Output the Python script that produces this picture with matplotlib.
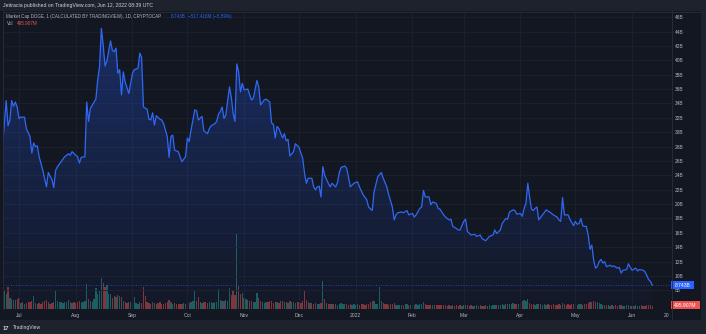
import datetime as dt
import numpy as np
import matplotlib
matplotlib.use("Agg")
import matplotlib.pyplot as plt
import matplotlib.dates as mdates
import matplotlib.transforms as mtransforms
from matplotlib.colors import LinearSegmentedColormap
from matplotlib.patches import Rectangle
from matplotlib.lines import Line2D

plt.rcParams['font.family'] = ['Liberation Sans', 'DejaVu Sans']

# ---------------------------------------------------------------- data
START = dt.date(2021, 7, 1)          # day 0

# DOGE market cap (billions USD), day offsets from START
cap_day = [
    -9, -7, -6, -5, -4, -3, -2, -1, 0, 1,
    3, 4, 6, 7, 8, 9, 10, 11, 13, 15,
    16, 18, 19, 20, 21, 23, 25, 27, 28, 29,
    31, 32, 33, 34, 36, 37, 38, 39, 41, 42,
    43, 44, 45, 46, 47, 48, 50, 51, 52, 53,
    54, 55, 56, 57, 58, 60, 62, 63, 65, 66,
    67, 68, 70, 71, 72, 73, 74, 75, 77, 78,
    79, 81, 82, 83, 84, 85, 87, 88, 89, 91,
    92, 93, 94, 96, 97, 98, 100, 101, 103, 104,
    105, 107, 108, 109, 110, 111, 112, 113, 115, 116,
    117, 118, 119, 120, 121, 122, 123, 125, 127, 128,
    130, 131, 132, 134, 135, 137, 138, 139, 140, 141,
    142, 144, 145, 146, 147, 148, 150, 151, 153, 154,
    155, 156, 157, 158, 160, 161, 162, 163, 164, 165,
    166, 167, 169, 170, 171, 173, 174, 175, 176, 178,
    179, 180, 181, 183, 185, 186, 188, 190, 191, 193,
    194, 196, 198, 199, 201, 202, 204, 205, 206, 207,
    209, 210, 212, 213, 215, 216, 217, 219, 220, 221,
    222, 224, 225, 226, 228, 229, 230, 232, 233, 235,
    236, 237, 239, 240, 241, 243, 244, 245, 247, 249,
    250, 252, 253, 255, 256, 257, 259, 260, 261, 263,
    264, 266, 267, 268, 270, 271, 272, 274, 275, 276,
    277, 278, 279, 280, 281, 282, 283, 284, 286, 287,
    288, 290, 291, 292, 294, 295, 296, 297, 298, 300,
    301, 303, 304, 305, 306, 307, 308, 309, 310, 311,
    312, 313, 314, 315, 316, 317, 318, 319, 320, 321,
    323, 324, 325, 327, 328, 329, 330, 332, 333, 334,
    335, 337, 338, 339, 341, 342, 343, 344, 345, 346,
]
cap_bn = [
    28.0, 34.4, 30.9, 31.7, 34.4, 33.6, 34.2, 33.5, 31.9, 32.1,
    32.1, 30.5, 29.4, 27.1, 28.5, 28.0, 28.1, 26.6, 24.7, 22.4,
    24.4, 23.4, 22.3, 24.7, 25.2, 25.9, 26.6, 27.0, 26.8, 27.3,
    26.8, 26.6, 25.7, 26.5, 26.6, 34.2, 31.5, 33.3, 34.2, 34.6,
    37.3, 39.1, 44.45, 42.1, 39.2, 39.9, 42.7, 41.4, 41.2, 41.7,
    38.2, 38.7, 35.2, 38.4, 37.0, 35.4, 38.2, 38.7, 38.9, 41.0,
    40.4, 33.5, 33.2, 31.8, 31.7, 32.7, 31.0, 32.3, 31.8, 31.7,
    31.2, 29.4, 26.5, 29.4, 29.6, 27.5, 27.3, 26.6, 25.9, 26.6,
    29.2, 28.7, 30.3, 33.1, 33.0, 31.7, 32.2, 30.2, 29.8, 30.5,
    30.9, 31.2, 31.5, 32.5, 32.9, 33.5, 31.9, 32.4, 36.3, 34.9,
    32.6, 31.5, 39.5, 38.4, 35.6, 36.8, 35.9, 36.0, 34.5, 34.7,
    37.2, 36.3, 33.8, 34.5, 34.6, 34.2, 31.3, 31.1, 29.2, 30.8,
    30.5, 29.2, 29.8, 28.8, 29.0, 26.7, 27.3, 28.4, 27.9, 27.1,
    26.4, 24.3, 22.9, 23.6, 23.6, 22.4, 22.0, 22.4, 22.5, 21.0,
    25.2, 24.0, 22.9, 22.4, 22.9, 22.4, 23.0, 24.4, 25.1, 25.3,
    25.0, 23.8, 22.4, 22.9, 23.1, 22.4, 21.3, 20.6, 19.6, 19.1,
    21.7, 23.8, 24.4, 23.6, 22.4, 21.3, 19.6, 17.8, 18.5, 18.8,
    18.9, 18.8, 19.1, 18.5, 18.7, 18.2, 18.5, 19.4, 19.6, 21.9,
    21.0, 21.0, 19.9, 20.3, 20.1, 19.4, 19.3, 18.5, 18.2, 17.8,
    17.9, 16.9, 16.6, 16.4, 16.4, 17.6, 17.9, 16.2, 15.7, 15.8,
    15.5, 15.7, 15.2, 14.9, 15.2, 15.5, 15.7, 16.4, 15.9, 16.4,
    17.3, 18.0, 17.9, 18.9, 19.2, 19.1, 18.6, 18.7, 18.3, 19.4,
    20.1, 22.9, 21.0, 19.3, 19.1, 19.4, 19.6, 17.8, 18.5, 18.8,
    19.2, 18.9, 18.7, 18.5, 18.2, 17.8, 17.6, 20.9, 18.5, 18.5,
    17.9, 17.0, 17.6, 17.2, 17.3, 18.0, 17.0, 16.9, 16.9, 15.7,
    13.7, 14.3, 12.2, 11.1, 11.3, 12.0, 12.3, 11.8, 12.0, 11.3,
    11.5, 11.3, 11.4, 11.1, 11.2, 10.4, 10.8, 10.9, 11.7, 11.2,
    10.8, 11.1, 10.7, 10.9, 10.8, 10.6, 10.1, 9.5, 9.26, 8.743,
]

# daily volume (billions USD), one value per day from day -9 to day 346
vol_first_day = -9
vol_bn = [
    3.6, 3.2, 2.5, 3.7, 1.8, 1.6, 1.5, 1.5, 1.6, 1.8,
    1.0, 1.1, 0.9, 1.0, 1.1, 1.2, 1.3, 2.2, 1.0, 0.9,
    1.0, 0.9, 1.1, 1.3, 1.5, 1.2, 0.9, 1.0, 1.1, 3.0,
    1.4, 1.2, 1.1, 1.0, 1.1, 1.2, 1.5, 1.1, 1.0, 1.2,
    1.0, 1.1, 1.3, 1.2, 1.1, 1.3, 4.1, 1.6, 1.3, 1.2,
    1.6, 3.5, 2.4, 3.0, 5.1, 4.3, 3.6, 4.0, 2.5, 2.5,
    1.8, 2.2, 2.0, 2.3, 2.2, 2.0, 1.3, 1.1, 1.0, 1.2,
    1.1, 1.0, 2.0, 1.0, 0.9, 1.1, 1.0, 3.6, 2.2, 1.2,
    1.0, 0.9, 1.1, 1.0, 0.9, 1.0, 1.1, 0.8, 0.9, 1.0,
    1.2, 1.5, 1.1, 0.9, 1.0, 0.9, 0.8, 0.8, 0.9, 1.0,
    0.9, 1.2, 1.0, 1.1, 1.4, 3.0, 1.3, 2.0, 1.1, 1.0,
    1.2, 1.1, 1.0, 1.2, 1.1, 1.0, 1.2, 1.1, 3.3, 1.5,
    1.4, 1.3, 1.5, 1.4, 3.4, 2.3, 3.1, 2.3, 12.5, 3.8,
    2.5, 2.7, 1.8, 1.6, 1.5, 1.4, 1.3, 1.2, 1.2, 2.7,
    1.9, 1.3, 1.1, 1.0, 1.2, 1.1, 1.4, 1.3, 1.0, 1.2,
    1.1, 1.0, 1.3, 1.4, 1.1, 1.2, 1.0, 1.4, 1.2, 1.1,
    1.0, 1.1, 1.2, 1.0, 1.3, 2.9, 1.5, 1.1, 1.0, 1.0,
    0.9, 1.0, 0.9, 0.8, 1.0, 4.6, 1.6, 1.0, 0.9, 0.8,
    0.9, 0.8, 0.8, 0.7, 0.9, 1.0, 0.8, 0.9, 0.8, 0.7,
    0.8, 0.7, 0.8, 0.7, 0.8, 0.7, 0.9, 0.8, 0.7, 0.8,
    0.9, 1.1, 1.3, 1.4, 0.9, 0.8, 3.7, 1.4, 1.0, 0.8,
    0.8, 0.7, 0.8, 0.9, 1.0, 0.7, 0.6, 0.7, 0.6, 0.7,
    0.8, 0.9, 0.7, 0.6, 0.7, 0.6, 0.8, 0.7, 0.9, 0.8,
    1.1, 0.8, 0.7, 0.7, 0.6, 0.7, 0.6, 0.6, 0.7, 0.6,
    0.6, 0.7, 0.6, 0.5, 0.6, 0.5, 0.6, 0.5, 0.6, 0.5,
    0.6, 0.5, 0.6, 0.7, 0.6, 0.5, 0.6, 0.5, 0.5, 0.6,
    0.5, 0.6, 0.5, 0.5, 0.6, 0.5, 0.6, 0.5, 0.6, 0.7,
    0.6, 0.7, 0.6, 0.8, 0.7, 0.9, 0.8, 0.9, 0.8, 1.0,
    0.9, 0.8, 0.9, 1.0, 1.3, 1.5, 1.4, 1.6, 1.0, 0.9,
    0.8, 0.7, 0.8, 0.9, 0.8, 0.7, 0.8, 0.7, 0.8, 0.7,
    0.7, 0.8, 0.7, 0.7, 0.8, 0.7, 1.0, 0.8, 0.7, 0.8,
    0.7, 0.8, 0.9, 0.8, 0.7, 0.8, 0.9, 0.7, 0.8, 0.9,
    1.0, 1.1, 1.2, 1.3, 1.2, 1.1, 1.0, 0.8, 0.7, 0.7,
    0.6, 0.6, 0.5, 0.6, 0.5, 0.6, 0.5, 0.6, 0.6, 0.5,
    0.5, 0.6, 0.6, 0.5, 0.5, 0.5, 0.6, 0.5, 0.5, 0.6,
    0.5, 0.5, 0.6, 0.6, 0.6, 0.496,
]
# u = up day, d = down day (one flag per volume bar)
vol_dir = (
    "uuuduududd" "ududdddudu" "dddddudddu" "uuuuuuudud" "ddduuuuduu"
    "uuuuudduuu" "ddudududdd" "uuuuuudddd" "ddududdddd" "dduudddddu"
    "uuduuudduu" "ddduuuuuuu" "uduuudddud" "duduudduuu" "dduuuddddd"
    "udddududuu" "uddddddudu" "dduudududd" "udduuuuudd" "duuuuddddd"
    "ddduuuuudd" "ddddduuuud" "uuduuduuuu" "uddddudddd" "dddddudddd"
    "duuuddduud" "uuddduuuuu" "duuuuuduuu" "dduuduuudd" "duuduuuudd"
    "dddddduddd" "ddduduuddd" "ddudduuudu" "duududdudu" "uuudduudud"
    "dddddd"
)

tick_dates = ["2021-07-01", "2021-08-01", "2021-09-01", "2021-10-01",
              "2021-11-01", "2021-12-01", "2022-01-01", "2022-02-01",
              "2022-03-01", "2022-04-01", "2022-05-01", "2022-06-01",
              "2022-06-20"]
tick_text = ["Jul", "Aug", "Sep", "Oct", "Nov", "Dec", "2022", "Feb",
             "Mar", "Apr", "May", "Jun", "20"]
price_ticks = list(range(8, 47, 2))

last_cap = cap_bn[-1]
last_vol = vol_bn[-1]

# ---------------------------------------------------------------- style
W, H = 706, 334
BG = '#131722'
FRAME = '#1e222d'
SEP = '#2a2e39'
GRID = '#1d212d'
BLUE = '#2962ff'
UP = (38/255, 166/255, 154/255, 0.5)
DOWN = (239/255, 83/255, 80/255, 0.5)
TXT = '#b2b5be'

fig = plt.figure(figsize=(W / 100, H / 100), dpi=100, facecolor=FRAME)


def fx(px):
    return px / W


def fy(py):
    return 1 - py / H


# dark chart panel inside the lighter frame
fig.patches.append(Rectangle((0, fy(320)), fx(701), (320 - 11) / H,
                             transform=fig.transFigure, facecolor=BG,
                             edgecolor='none', zorder=-5))

pane = [fx(3), fy(309), fx(669), (309 - 12) / H]
axv = fig.add_axes(pane, facecolor=BG)
ax = fig.add_axes(pane, sharex=axv)
ax.patch.set_visible(False)

to_num = lambda d: mdates.date2num(START) + np.asarray(d, dtype=float)
x_cap = to_num(cap_day)
x_vol = to_num(np.arange(vol_first_day, vol_first_day + len(vol_bn)))
x_lo, x_hi = to_num(-8.75), to_num(356.8)
y_lo, y_hi = 5.41, 46.72

# volume overlay
bar_colors = [UP if c == 'u' else DOWN for c in vol_dir]
axv.bar(x_vol, vol_bn, width=0.72, color=bar_colors, linewidth=0)
axv.set_ylim(0, 297 / 6.05)
axv.set_xlim(x_lo, x_hi)
axv.axis('off')

# grid
for p in price_ticks:
    ax.axhline(p, color=GRID, lw=0.6, zorder=0.5)
x_ticks = [mdates.date2num(dt.date.fromisoformat(s)) for s in tick_dates]
for xt in x_ticks[:-1]:
    ax.axvline(xt, color=GRID, lw=0.6, zorder=0.5)

# area with gradient fill
fill = ax.fill_between(x_cap, cap_bn, y_lo, facecolor='none', edgecolor='none')
cmap = LinearSegmentedColormap.from_list(
    'area', [(41/255, 98/255, 1, 0.02), (41/255, 98/255, 1, 0.30)])
grad = np.linspace(0, 1, 256).reshape(-1, 1)
im = ax.imshow(grad, aspect='auto', cmap=cmap, origin='lower',
               extent=[x_cap[0], x_cap[-1], y_lo, max(cap_bn)], zorder=1,
               interpolation='bicubic')
im.set_clip_path(fill.get_paths()[0], transform=ax.transData)
ax.plot(x_cap, cap_bn, color='#3068f5', lw=0.9, zorder=3,
        solid_joinstyle='round')
ax.axhline(last_cap, color=BLUE, lw=0.6, ls=(0, (1, 2)), alpha=0.8, zorder=2)

ax.set_xlim(x_lo, x_hi)
ax.set_ylim(y_lo, y_hi)
for s in ax.spines.values():
    s.set_visible(False)

ax.set_xticks(x_ticks)
ax.set_xticklabels(tick_text)
ax.yaxis.tick_right()
ax.set_yticks(price_ticks)
ax.set_yticklabels([f"{p}B" for p in price_ticks])
ax.tick_params(axis='x', length=0, pad=3.0, labelsize=3.6, labelcolor=TXT)
ax.tick_params(axis='y', length=0, pad=2.2, labelsize=3.5, labelcolor=TXT)

# last value tags on the price scale
tr_price = mtransforms.blended_transform_factory(fig.transFigure, ax.transData)
tag_h = 8.5 / 7.19
ax.add_patch(Rectangle((fx(671), last_cap - tag_h / 2), fx(23), tag_h,
                       transform=tr_price, facecolor=BLUE, edgecolor='none',
                       clip_on=False, zorder=10))
ax.text(fx(682.5), last_cap, f"{last_cap:.3f}B", transform=tr_price,
        ha='center', va='center', fontsize=3.6, color='white',
        clip_on=False, zorder=11)

tr_vol = mtransforms.blended_transform_factory(fig.transFigure, axv.transData)
vtag_h = 8 / 6.05
ax.add_patch(Rectangle((fx(671), last_vol - vtag_h / 2 + 0.15), fx(29), vtag_h,
                       transform=tr_vol, facecolor='#ef5350', edgecolor='none',
                       clip_on=False, zorder=10))
ax.text(fx(685.5), last_vol + 0.15, "495.907M", transform=tr_vol,
        ha='center', va='center', fontsize=3.6, color='white',
        clip_on=False, zorder=11)

# separators
for (x0, y0, x1, y1) in [(672, 11, 672, 320), (3, 11.5, 701, 11.5),
                         (3, 11, 3, 309)]:
    fig.add_artist(Line2D([fx(x0), fx(x1)], [fy(y0), fy(y1)], color=SEP,
                          lw=0.6, transform=fig.transFigure))

# header and legend
fig.text(fx(3), fy(5.5), "Jettracia published on TradingView.com, Jun 12, 2022 08:39 UTC",
         fontsize=3.7, color='#d1d4dc', ha='left', va='center')
fig.text(fx(6.5), fy(16.5), "Market Cap DOGE, 1 (CALCULATED BY TRADINGVIEW), 1D, CRYPTOCAP",
         fontsize=3.25, color=TXT, ha='left', va='center')
fig.text(fx(171), fy(16.5), "8.743B", fontsize=3.3, color=BLUE,
         ha='left', va='center')
fig.text(fx(188), fy(16.5), "\u2212517.416M (\u22125.59%)", fontsize=3.3,
         color=BLUE, ha='left', va='center')
fig.text(fx(6.5), fy(23.5), "Vol", fontsize=3.3, color=TXT,
         ha='left', va='center')
fig.text(fx(17), fy(23.5), "495.907M", fontsize=3.3, color='#ef5350',
         ha='left', va='center')

# footer logo
fig.text(fx(3), fy(328), "17", fontsize=4.2, color='#d1d4dc',
         fontweight='bold', ha='left', va='center')
fig.text(fx(13), fy(328), "TradingView", fontsize=3.6, color='#d1d4dc',
         ha='left', va='center')

fig.savefig("out.png", dpi=100, facecolor=FRAME)
